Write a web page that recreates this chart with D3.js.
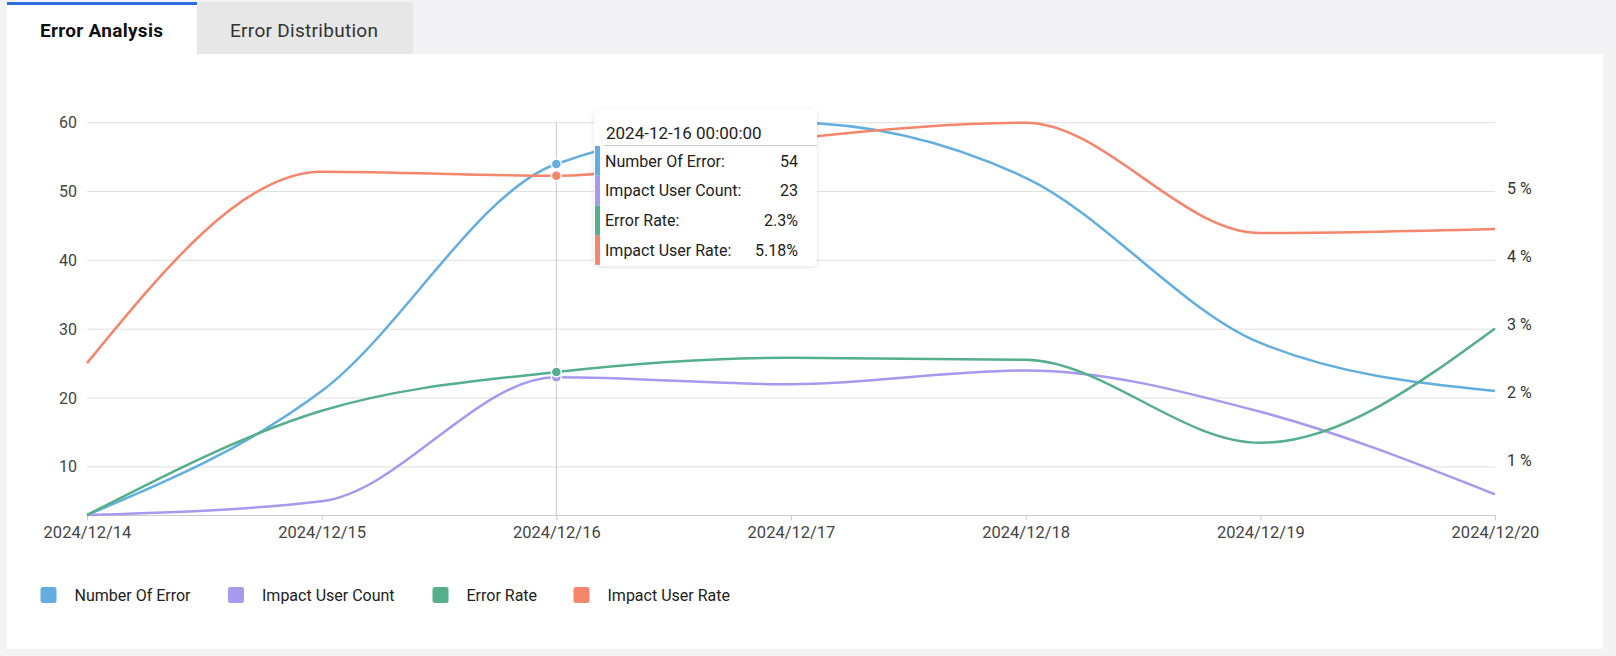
<!DOCTYPE html>
<html>
<head>
<meta charset="utf-8">
<script src="https://cdn.jsdelivr.net/npm/d3@7"></script>
<style>
    body { margin: 0; background: #f3f3f5; font-family: Roboto, "Noto Sans", sans-serif; }
    #chart { width: 1616px; height: 656px; }
</style>
</head>
<body>
<div id="chart"></div>
<script>
//Chart data
var dates = ["2024/12/14", "2024/12/15", "2024/12/16", "2024/12/17", "2024/12/18", "2024/12/19", "2024/12/20"];
var number_of_error = [3, 21, 54, 60, 52, 28, 21];
var impact_user_count = [3, 5, 23, 22, 24, 18, 6];
var error_rate = [0.2, 1.73, 2.3, 2.51, 2.48, 1.26, 2.94];
var impact_user_rate = [2.43, 5.24, 5.18, 5.72, 5.96, 4.34, 4.40];
var left_ticks = [10, 20, 30, 40, 50, 60];
var right_ticks = [1, 2, 3, 4, 5];
var tab_names = ["Error Analysis", "Error Distribution"];
var tooltip_title = "2024-12-16 00:00:00";
var hover_index = 2;

var series = [
    {name: "Number Of Error", values: number_of_error, axis: "left", color: "#62aee0", suffix: ""},
    {name: "Impact User Count", values: impact_user_count, axis: "left", color: "#a898ee", suffix: ""},
    {name: "Error Rate", values: error_rate, axis: "right", color: "#55ae8c", suffix: "%"},
    {name: "Impact User Rate", values: impact_user_rate, axis: "right", color: "#f3866b", suffix: "%"}
];

var margin = {top: 122.7, right: 121, bottom: 141, left: 87},
    full_width = 1616,
    full_height = 656,
    width = full_width - margin.left - margin.right,
    height = full_height - margin.top - margin.bottom;

var font = "Roboto, 'Noto Sans', sans-serif";

var svg = d3.select("#chart").append("svg")
    .attr("width", full_width)
    .attr("height", full_height)
    .style("font-family", font);

//Tabs and white panel
svg.append("rect").attr("x", 7).attr("y", 54).attr("width", 1596).attr("height", 595).attr("fill", "#fff");
svg.append("rect").attr("x", 7).attr("y", 2).attr("width", 190).attr("height", 53).attr("fill", "#fff");
svg.append("rect").attr("x", 7).attr("y", 2).attr("width", 190).attr("height", 3).attr("fill", "#2a6fdb");
svg.append("rect").attr("x", 197).attr("y", 2).attr("width", 216).attr("height", 52).attr("fill", "#e7e7e8");
svg.append("text").attr("x", 40).attr("y", 30.5).attr("dy", ".35em")
    .style("font-size", "19px").style("font-weight", "bold").attr("fill", "#111")
    .attr("textLength", 123)
    .text(tab_names[0]);
svg.append("text").attr("x", 230).attr("y", 30.5).attr("dy", ".35em")
    .style("font-size", "19px").attr("fill", "#333")
    .attr("textLength", 148)
    .text(tab_names[1]);

var g = svg.append("g").attr("transform", "translate(" + margin.left + "," + margin.top + ")");

//Scales
var x = d3.scalePoint().domain(dates).range([0, width]);
var y_left = d3.scaleLinear()
    .domain(d3.extent(number_of_error.concat(impact_user_count)))
    .range([height, 0]);
var y_right = d3.scaleLinear()
    .domain(d3.extent(error_rate.concat(impact_user_rate)))
    .range([height, 0]);

//Grid lines
g.selectAll(".grid").data(left_ticks).enter().append("line")
    .attr("x1", 0).attr("x2", width)
    .attr("y1", function(d) { return y_left(d); })
    .attr("y2", function(d) { return y_left(d); })
    .attr("stroke", "#e0e0e0").attr("stroke-width", 1);

//Left axis labels
g.selectAll(".ly").data(left_ticks).enter().append("text")
    .attr("x", -10).attr("y", function(d) { return y_left(d); })
    .attr("dy", ".35em").attr("text-anchor", "end")
    .style("font-size", "16px").attr("fill", "#444")
    .text(function(d) { return d; });

//Right axis labels
g.selectAll(".ry").data(right_ticks).enter().append("text")
    .attr("x", width + 12).attr("y", function(d) { return y_right(d); })
    .attr("dy", ".35em")
    .style("font-size", "16px").attr("fill", "#333")
    .text(function(d) { return d + " %"; });

//X axis
var x_axis = g.append("g")
    .attr("transform", "translate(0," + height + ")")
    .call(d3.axisBottom(x).tickSize(5).tickPadding(6));
x_axis.select(".domain").attr("stroke", "#ccc");
x_axis.selectAll(".tick line").attr("stroke", "#ccc");
x_axis.selectAll("text").style("font-size", "16.5px").attr("fill", "#444").style("font-family", font);

//Crosshair
g.append("line")
    .attr("x1", x(dates[hover_index])).attr("x2", x(dates[hover_index]))
    .attr("y1", 0).attr("y2", height)
    .attr("stroke", "#c8c8c8").attr("stroke-width", 1);

//Lines
series.forEach(function(s) {
    var scale = s.axis == "left" ? y_left : y_right;
    var line = d3.line()
        .x(function(d, i) { return x(dates[i]); })
        .y(function(d) { return scale(d); })
        .curve(d3.curveMonotoneX);
    g.append("path")
        .datum(s.values)
        .attr("d", line)
        .attr("fill", "none")
        .attr("stroke", s.color)
        .attr("stroke-width", 2.5);
});

//Hover dots
series.forEach(function(s) {
    var scale = s.axis == "left" ? y_left : y_right;
    g.append("circle")
        .attr("cx", x(dates[hover_index]))
        .attr("cy", scale(s.values[hover_index]))
        .attr("r", 5)
        .attr("fill", s.color)
        .attr("stroke", "#fff")
        .attr("stroke-width", 1.5);
});

//Tooltip
var tip = svg.append("g").attr("transform", "translate(594,109)");
var defs = svg.append("defs");
var filter = defs.append("filter").attr("id", "shadow").attr("x", "-10%").attr("y", "-10%").attr("width", "120%").attr("height", "130%");
filter.append("feDropShadow").attr("dx", 0).attr("dy", 1).attr("stdDeviation", 2).attr("flood-color", "#000").attr("flood-opacity", 0.12);
tip.append("rect")
    .attr("width", 223).attr("height", 157).attr("rx", 5)
    .attr("fill", "#fff").attr("filter", "url(#shadow)");
tip.append("text").attr("x", 12).attr("y", 24).attr("dy", ".35em")
    .style("font-size", "17px").attr("fill", "#222")
    .text(tooltip_title);
tip.append("line").attr("x1", 10).attr("x2", 223).attr("y1", 36.5).attr("y2", 36.5)
    .attr("stroke", "#ccc").attr("stroke-width", 1);
series.forEach(function(s, i) {
    var row_y = 37 + i * 29.7;
    tip.append("rect").attr("x", 1).attr("y", row_y).attr("width", 5).attr("height", 29.7).attr("fill", s.color);
    tip.append("text").attr("x", 11).attr("y", row_y + 15).attr("dy", ".35em")
        .style("font-size", "16px").attr("fill", "#222")
        .text(s.name + ":");
    tip.append("text").attr("x", 204).attr("y", row_y + 15).attr("dy", ".35em")
        .attr("text-anchor", "end")
        .style("font-size", "16px").attr("fill", "#222")
        .text(s.values[hover_index] + s.suffix);
});

//Legend
var legend_x = [40.5, 228, 432.5, 573.5];
var legend = svg.selectAll(".legend").data(series).enter().append("g")
    .attr("transform", function(d, i) { return "translate(" + legend_x[i] + ",595)"; });
legend.append("rect")
    .attr("x", 0).attr("y", -8).attr("width", 16).attr("height", 16).attr("rx", 2.5)
    .attr("fill", function(d) { return d.color; });
legend.append("text")
    .attr("x", 34).attr("y", 0).attr("dy", ".35em")
    .style("font-size", "16px").attr("fill", "#222")
    .text(function(d) { return d.name; });
</script>
</body>
</html>
